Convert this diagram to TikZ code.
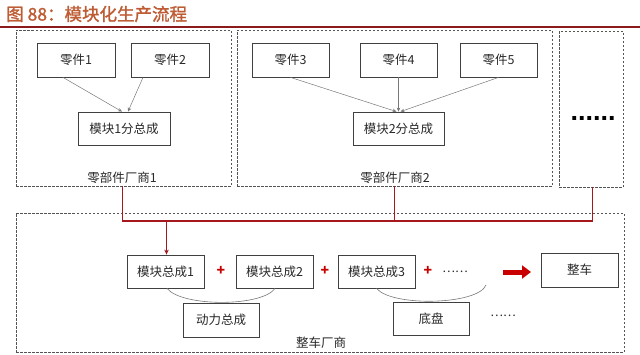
\documentclass[tikz,border=0pt]{standalone}
\usepackage{fontspec}
\setmainfont{Noto Sans CJK SC}
\newfontfamily\titlefont[FakeBold=1.5]{Noto Sans CJK SC}
\newfontfamily\dotfont{Liberation Sans}
\usetikzlibrary{arrows.meta,calc}
\definecolor{titlecol}{RGB}{190,92,52}
\definecolor{rulered}{RGB}{140,28,28}
\definecolor{linkred}{RGB}{165,25,30}
\definecolor{brightred}{RGB}{200,0,0}
\definecolor{boxgray}{RGB}{64,64,64}
\definecolor{dashgray}{RGB}{85,85,85}
\definecolor{textgray}{RGB}{40,40,40}
\definecolor{thingray}{RGB}{120,120,120}
\tikzset{
  partbox/.style={draw=boxgray, line width=0.8pt, minimum width=77pt, minimum height=34pt, inner sep=0pt, font=\fontsize{12.5}{14}\selectfont, text=textgray},
  groupbox/.style={draw=dashgray, dash pattern=on 2.5pt off 1.5pt, line width=0.9pt, inner sep=0pt},
  grouplabel/.style={font=\fontsize{12.5}{14}\selectfont, text=textgray, inner sep=1pt},
  plusmark/.style={font=\fontsize{14}{16}\selectfont\bfseries, text=brightred, inner sep=0pt},
  feed/.style={draw=thingray, line width=0.5pt, -{Stealth[length=4pt,width=3.5pt]}, shorten >=0pt},
  redlink/.style={draw=linkred, line width=1.6pt},
  arcline/.style={draw=thingray, line width=0.6pt}
}
\begin{document}
\begin{tikzpicture}[x=1pt,y=-1pt]
\useasboundingbox (0,0) rectangle (640,354);
% title
\node[anchor=west, text=titlecol, font=\titlefont\fontsize{17.5}{20}\selectfont, inner sep=0pt] (title) at (6,14) {图 88：模块化生产流程};
\draw[rulered, line width=1.6pt] (0,27) -- (640,27);
% group boxes
\node[groupbox, minimum width=215pt, minimum height=156pt] (g1) at (123.5,108) {};
\node[groupbox, minimum width=315pt, minimum height=156pt] (g2) at (394.5,108) {};
\node[groupbox, minimum width=64pt, minimum height=156pt] (g3) at (591,109) {};
\node[groupbox, minimum width=608pt, minimum height=139pt] (g4) at (320,282.5) {};
% box 1
\node[partbox, minimum width=78pt] (p1) at (76,60) {零件1};
\node[partbox, minimum width=78pt] (p2) at (170,60) {零件2};
\node[partbox, minimum width=92pt, minimum height=33pt] (m1) at (124,128.5) {模块1分总成};
\node[grouplabel] (l1) at (122,178) {零部件厂商1};
\draw[feed] ([xshift=-13pt]p1.south) -- ([xshift=-2pt]m1.north);
\draw[feed] ([xshift=-27pt]p2.south) -- ([xshift=4pt]m1.north);
% box 2
\node[partbox] (p3) at (290.5,60) {零件3};
\node[partbox] (p4) at (398.5,60) {零件4};
\node[partbox] (p5) at (498.5,60) {零件5};
\node[partbox, minimum width=91pt, minimum height=33pt] (m2) at (398.5,128.5) {模块2分总成};
\node[grouplabel] (l2) at (395,178) {零部件厂商2};
\draw[feed] (p3.south) -- ([xshift=-2pt]m2.north);
\draw[feed] (p4.south) -- (m2.north);
\draw[feed] (p5.south) -- ([xshift=2pt]m2.north);
% box 3
\node[font=\dotfont\bfseries\fontsize{27}{30}\selectfont, inner sep=0pt, anchor=base] (dots) at (593,120) {......};
% bottom box
\node[partbox, minimum height=33pt] (a1) at (165.5,271.5) {模块总成1};
\node[partbox, minimum height=33pt] (a2) at (274.5,271.5) {模块总成2};
\node[partbox, minimum height=33pt] (a3) at (376.5,271.5) {模块总成3};
\node[partbox] (car) at (579.5,270) {整车};
\node[partbox, minimum width=76pt] (pw) at (221,320) {动力总成};
\node[partbox, minimum width=76pt, minimum height=33pt] (ch) at (431,318.5) {底盘};
\node[plusmark] (pl1) at (221,271) {+};
\node[plusmark] (pl2) at (325,271) {+};
\node[plusmark] (pl3) at (428,271) {+};
\node[font=\fontsize{12}{14}\selectfont, text=textgray, inner sep=0pt] (e1) at (455,272) {……};
\node[font=\fontsize{12}{14}\selectfont, text=textgray, inner sep=0pt] (e2) at (503,316) {……};
\node[grouplabel] (l4) at (321,343) {整车厂商};
% red links
\coordinate (j1) at (122.5,221);
\coordinate (j2) at (394.5,221);
\coordinate (j3) at (592.5,221);
\coordinate (ja) at (166.5,221);
\draw[redlink] (g1.south -| j1) -- (j1) -- (j3) -- (g3.south -| j3);
\draw[redlink] (g2.south -| j2) -- (j2);
\draw[redlink, -{Stealth[length=5pt,width=4.5pt]}] (ja) -- (ja |- a1.north);
% big arrow
\coordinate (bs) at (503,272);
\coordinate (be) at (531,272);
\draw[brightred, line width=5pt, -{Triangle[length=9pt,width=13pt]}] (bs) -- (be);
% arcs
\coordinate (arcend) at (486,285);
\draw[arcline] ([xshift=1.5pt]a1.south) .. controls (182,307) and (262,307) .. ([xshift=0.5pt]a2.south);
\draw[arcline] (a3.south) .. controls (392,307) and (478,305) .. (arcend);
\end{tikzpicture}
\end{document}
